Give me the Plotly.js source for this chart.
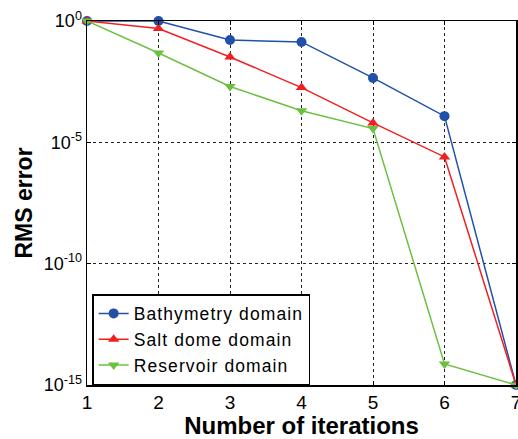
<!DOCTYPE html>
<html><head><meta charset="utf-8">
<script src="https://cdn.plot.ly/plotly-3.0.1.min.js"></script>
<style>html,body{margin:0;padding:0;background:#fff}
.legendtext{letter-spacing:1.1px}</style>
</head><body><div id="chart" style="width:518px;height:439px"></div>
<script>
const iterations = [1, 2, 3, 4, 5, 6, 7];
const bathymetry = [1, 1, 0.165, 0.137, 4.5e-3, 1.2e-4, 1e-15];
const saltDome = [1, 0.49, 0.033, 1.8e-3, 6.3e-5, 2.5e-6, 1e-15];
const reservoir = [1, 0.048, 2.0e-3, 2.0e-4, 3.7e-5, 7.4e-15, 1e-15];
const seriesNames = ['Bathymetry domain', 'Salt dome domain', 'Reservoir domain'];
const yTickVals = [1, 1e-5, 1e-10, 1e-15];
const yTickText = ['10<sup>0</sup>', '10<sup>-5</sup>', '10<sup>-10</sup>', '10<sup>-15</sup>'];

const colors = ['#2050a8', '#f02020', '#6cc040'];
const symbols = ['circle', 'triangle-up', 'triangle-down'];
const ys = [bathymetry, saltDome, reservoir];

const traces = ys.map((y, i) => ({
  x: iterations, y: y, name: seriesNames[i], type: 'scatter', mode: 'lines+markers',
  line: {color: colors[i], width: 1.5},
  marker: {color: colors[i], symbol: symbols[i], size: 10},
  cliponaxis: false
}));

const font = {family: 'Liberation Sans, Arial, sans-serif', color: '#000'};
const layout = {
  width: 518, height: 439,
  margin: {l: 87, r: 2, t: 21, b: 54},
  paper_bgcolor: '#fff', plot_bgcolor: '#fff',
  font: font,
  showlegend: true,
  legend: {
    x: 0.012, y: 0.0, xanchor: 'left', yanchor: 'bottom',
    bgcolor: '#fff', bordercolor: '#000', borderwidth: 1.5,
    font: {family: font.family, size: 17.5, color: '#000'},
    tracegroupgap: 0, itemwidth: 30
  },
  xaxis: {
    range: [1, 7], tickvals: iterations, ticktext: iterations.map(String),
    showline: true, linecolor: '#000', linewidth: 1.5, mirror: 'ticks',
    ticks: 'inside', ticklen: 4, tickcolor: '#000',
    showgrid: true, gridcolor: '#222', griddash: 'dot', gridwidth: 1,
    zeroline: false, ticklabeloverflow: 'allow',
    tickfont: {family: font.family, size: 19, color: '#000'},
    title: {text: '<b>Number of iterations</b>', font: {family: font.family, size: 24, color: '#000'}, standoff: 2}
  },
  yaxis: {
    type: 'log', range: [-15, 0], tickvals: yTickVals, ticktext: yTickText,
    showline: true, linecolor: '#000', linewidth: 1.5, mirror: 'ticks',
    ticks: 'inside', ticklen: 4, tickcolor: '#000',
    showgrid: true, gridcolor: '#222', griddash: 'dot', gridwidth: 1,
    zeroline: false,
    tickfont: {family: font.family, size: 18, color: '#000'},
    title: {text: '<b>RMS error</b>', font: {family: font.family, size: 23, color: '#000'}, standoff: 4}
  }
};
Plotly.newPlot('chart', traces, layout, {displayModeBar: false, staticPlot: true});
</script></body></html>
